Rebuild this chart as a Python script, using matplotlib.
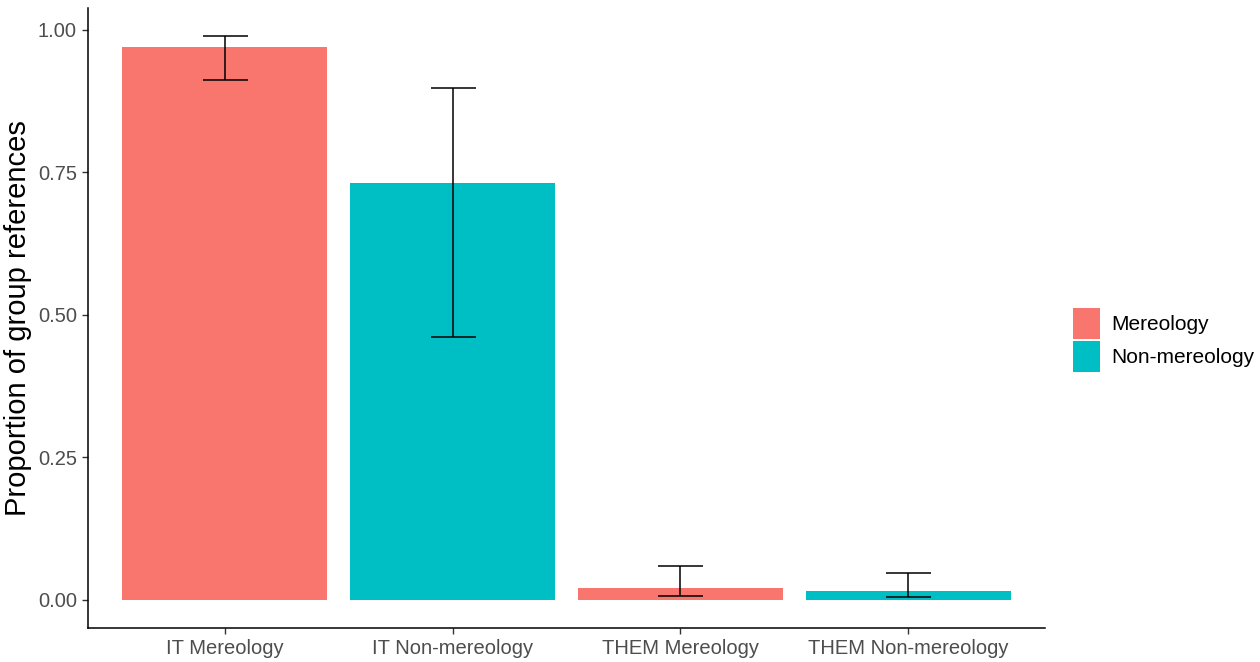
import matplotlib
matplotlib.use("Agg")
import matplotlib.pyplot as plt
from matplotlib.patches import Patch

categories = ["IT Mereology", "IT Non-mereology", "THEM Mereology", "THEM Non-mereology"]
groups = ["Mereology", "Non-mereology", "Mereology", "Non-mereology"]
values = [0.970, 0.732, 0.021, 0.015]
err_low = [0.912, 0.461, 0.0075, 0.005]
err_high = [0.989, 0.898, 0.060, 0.047]
yticks = [0.00, 0.25, 0.50, 0.75, 1.00]
ytick_labels = ["0.00", "0.25", "0.50", "0.75", "1.00"]
legend_labels = ["Mereology", "Non-mereology"]
colors = {"Mereology": "#F8766D", "Non-mereology": "#00BFC4"}

font = "Liberation Sans"
tick_size = 14.5

fig = plt.figure(figsize=(12.6, 6.62), dpi=100)
ax = fig.add_axes([88/1260, 1-628/662, (1045-88)/1260, (628-8)/662])

x = list(range(1, len(categories)+1))
ax.bar(x, values, width=0.9, color=[colors[g] for g in groups], zorder=2)
yerr = [[v - l for v, l in zip(values, err_low)], [h - v for v, h in zip(values, err_high)]]
ax.errorbar(x, values, yerr=yerr, fmt="none", ecolor="black", elinewidth=1.1,
            capsize=16.2, capthick=1.1, zorder=3)

ax.set_xlim(0.4, 4.6)
ymax = max(err_high)
ax.set_ylim(-0.05*ymax, ymax*1.05)
ax.set_xticks(x)
ax.set_xticklabels(categories, family=font, fontsize=tick_size, color="#4D4D4D")
ax.set_yticks(yticks)
ax.set_yticklabels(ytick_labels, family=font, fontsize=tick_size, color="#4D4D4D")
ax.tick_params(axis="both", length=4, width=1, color="#333333", pad=4)
for s in ["top", "right"]:
    ax.spines[s].set_visible(False)
for s in ["left", "bottom"]:
    ax.spines[s].set_linewidth(1.1)
    ax.spines[s].set_color("black")
ax.set_ylabel("Proportion of group references", family=font, fontsize=21,
              color="black")
ax.yaxis.set_label_coords((32-88)/957, 0.5)

handles = [Patch(facecolor=colors[l], edgecolor="none") for l in legend_labels]
leg = fig.legend(handles, legend_labels, loc="center left",
                 bbox_to_anchor=(1058/1260, 1-340/662), frameon=False,
                 prop={"family": font, "size": 15},
                 handlelength=1.3, handleheight=1.9, handletextpad=0.55,
                 labelspacing=0.08, borderpad=0.2)

fig.savefig("out.png", dpi=100)
